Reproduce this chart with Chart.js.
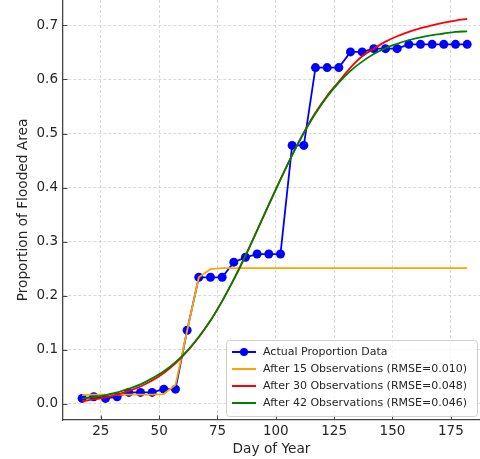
<!DOCTYPE html>
<html>
<head>
<meta charset="utf-8">
<script src="https://cdn.jsdelivr.net/npm/chart.js@4.4.1/dist/chart.umd.min.js"></script>
<style>
  html, body { margin: 0; padding: 0; background: #fff; }
  #chart { display: block; }
</style>
</head>
<body>
<canvas id="chart" width="480" height="459"></canvas>
<script>
// Day of year for each observation
const days = [17, 22, 27, 32, 37, 42, 47, 52, 57, 62, 67, 72, 77, 82, 87, 92, 97,
              102, 107, 112, 117, 122, 127, 132, 137, 142, 147, 152, 157, 162, 167, 172, 177, 182];

// Observed proportion of flooded area
const actual = [0.010, 0.013, 0.010, 0.013, 0.021, 0.021, 0.021, 0.027, 0.027, 0.136, 0.234, 0.234,
                0.234, 0.262, 0.271, 0.277, 0.277, 0.277, 0.478, 0.478, 0.622, 0.622, 0.622, 0.651,
                0.651, 0.657, 0.657, 0.657, 0.665, 0.665, 0.665, 0.665, 0.665, 0.665];

// Fitted curves
const fit15 = [0.016, 0.017, 0.017, 0.017, 0.017, 0.017, 0.017, 0.018, 0.035, 0.135, 0.234, 0.249,
               0.251, 0.251, 0.251, 0.251, 0.251, 0.251, 0.251, 0.251, 0.251, 0.251, 0.251, 0.251,
               0.251, 0.251, 0.251, 0.251, 0.251, 0.251, 0.251, 0.251, 0.251, 0.251];
const fit30 = [0.005, 0.008, 0.012, 0.017, 0.024, 0.032, 0.043, 0.057, 0.075, 0.097, 0.123, 0.154,
               0.190, 0.230, 0.274, 0.321, 0.368, 0.415, 0.460, 0.502, 0.539, 0.570, 0.596, 0.622,
               0.643, 0.657, 0.670, 0.680, 0.688, 0.695, 0.700, 0.705, 0.709, 0.712];
const fit42 = [0.0095, 0.0125, 0.016, 0.021, 0.028, 0.036, 0.047, 0.060, 0.077, 0.098, 0.124, 0.154,
               0.190, 0.230, 0.274, 0.321, 0.369, 0.415, 0.460, 0.501, 0.537, 0.568, 0.594, 0.616,
               0.633, 0.647, 0.658, 0.666, 0.673, 0.678, 0.682, 0.685, 0.688, 0.689];

const xTicks = [25, 50, 75, 100, 125, 150, 175];
const yTicks = [0.0, 0.1, 0.2, 0.3, 0.4, 0.5, 0.6, 0.7];

const labels = [
    'Actual Proportion Data',
    'After 15 Observations (RMSE=0.010)',
    'After 30 Observations (RMSE=0.048)',
    'After 42 Observations (RMSE=0.046)'
];

const toPoints = (ys) => days.map((d, i) => ({ x: d, y: ys[i] }));

const textColor = '#262626';
const font = 'DejaVu Sans';

// let the plot area run to the canvas edges, like the cropped original
function noPadding(scale) {
    scale.paddingTop = 0;
    scale.paddingBottom = 0;
    scale.paddingLeft = 0;
    scale.paddingRight = 0;
}

// matplotlib-style inward ticks + legend box inside the plot
const decorations = {
    id: 'decorations',
    afterDraw(chart) {
        const ctx = chart.ctx;
        const area = chart.chartArea;
        const xs = chart.scales.x, ys = chart.scales.y;

        ctx.save();
        ctx.strokeStyle = '#444';
        ctx.lineWidth = 1;
        xTicks.forEach(v => {
            const px = Math.round(xs.getPixelForValue(v)) + 0.5;
            ctx.beginPath();
            ctx.moveTo(px, area.bottom);
            ctx.lineTo(px, area.bottom - 4.5);
            ctx.stroke();
        });
        yTicks.forEach(v => {
            const py = Math.round(ys.getPixelForValue(v)) + 0.5;
            ctx.beginPath();
            ctx.moveTo(area.left, py);
            ctx.lineTo(area.left + 4.5, py);
            ctx.stroke();
        });

        // legend
        const bx = 226.5, by = 340.5, bw = 251, bh = 76;
        ctx.fillStyle = 'rgba(255,255,255,0.8)';
        ctx.strokeStyle = '#d0d0d0';
        ctx.lineWidth = 1;
        ctx.beginPath();
        ctx.roundRect(bx, by, bw, bh, 3);
        ctx.fill();
        ctx.stroke();

        ctx.font = '11px "' + font + '"';
        ctx.textBaseline = 'middle';
        ctx.textAlign = 'left';
        chart.data.datasets.forEach((ds, i) => {
            const ry = 352 + i * 17;
            ctx.strokeStyle = ds.borderColor;
            ctx.lineWidth = 2;
            ctx.beginPath();
            ctx.moveTo(232, ry);
            ctx.lineTo(256, ry);
            ctx.stroke();
            if (ds.pointRadius > 0) {
                ctx.fillStyle = ds.borderColor;
                ctx.beginPath();
                ctx.arc(244, ry, 4, 0, Math.PI * 2);
                ctx.fill();
            }
            ctx.fillStyle = textColor;
            ctx.fillText(labels[i], 263, ry + 0.5);
        });
        ctx.restore();
    }
};

const ctx = document.getElementById('chart').getContext('2d');
new Chart(ctx, {
    type: 'line',
    data: {
        datasets: [
            {
                label: labels[0],
                data: toPoints(actual),
                borderColor: '#0000ff',
                backgroundColor: '#0000ff',
                borderWidth: 1.8,
                pointRadius: 4.5,
                pointBorderWidth: 0,
                tension: 0,
                order: 4
            },
            {
                label: labels[1],
                data: toPoints(fit15),
                borderColor: '#ffa500',
                borderWidth: 1.8,
                pointRadius: 0,
                tension: 0,
                order: 3
            },
            {
                label: labels[2],
                data: toPoints(fit30),
                borderColor: '#ff0000',
                borderWidth: 1.8,
                pointRadius: 0,
                cubicInterpolationMode: 'monotone',
                order: 2
            },
            {
                label: labels[3],
                data: toPoints(fit42),
                borderColor: '#008000',
                borderWidth: 1.8,
                pointRadius: 0,
                cubicInterpolationMode: 'monotone',
                order: 1
            }
        ]
    },
    options: {
        responsive: false,
        animation: false,
        devicePixelRatio: 1,
        layout: { padding: 0, autoPadding: false },
        plugins: {
            legend: { display: false },
            tooltip: { enabled: false }
        },
        scales: {
            x: {
                type: 'linear',
                min: 8.8,
                max: 187.5,
                afterBuildTicks: (scale) => { scale.ticks = xTicks.map(v => ({ value: v })); },
                afterFit: (scale) => { scale.height = 39; noPadding(scale); },
                ticks: {
                    padding: 3,
                    color: textColor,
                    font: { family: font, size: 13.5 }
                },
                grid: { color: '#cfcfcf', lineWidth: 0.8, drawTicks: false },
                border: { display: true, color: '#444', width: 1.3, dash: [3, 2] },
                title: {
                    display: true,
                    text: 'Day of Year',
                    color: textColor,
                    font: { family: font, size: 13.7 },
                    padding: { top: 0, bottom: 1 }
                }
            },
            y: {
                type: 'linear',
                min: -0.03,
                max: 0.747,
                afterBuildTicks: (scale) => { scale.ticks = yTicks.map(v => ({ value: v })); },
                afterFit: (scale) => { scale.width = 63; noPadding(scale); },
                ticks: {
                    padding: 5,
                    color: textColor,
                    font: { family: font, size: 13.5 },
                    callback: (v) => Number(v).toFixed(1)
                },
                grid: { color: '#cfcfcf', lineWidth: 0.8, drawTicks: false },
                border: { display: true, color: '#444', width: 1.3, dash: [3, 2] },
                title: {
                    display: true,
                    text: 'Proportion of Flooded Area',
                    color: textColor,
                    font: { family: font, size: 13.7 },
                    padding: { top: 15, bottom: 0 }
                }
            }
        }
    },
    plugins: [decorations]
});
</script>
</body>
</html>
